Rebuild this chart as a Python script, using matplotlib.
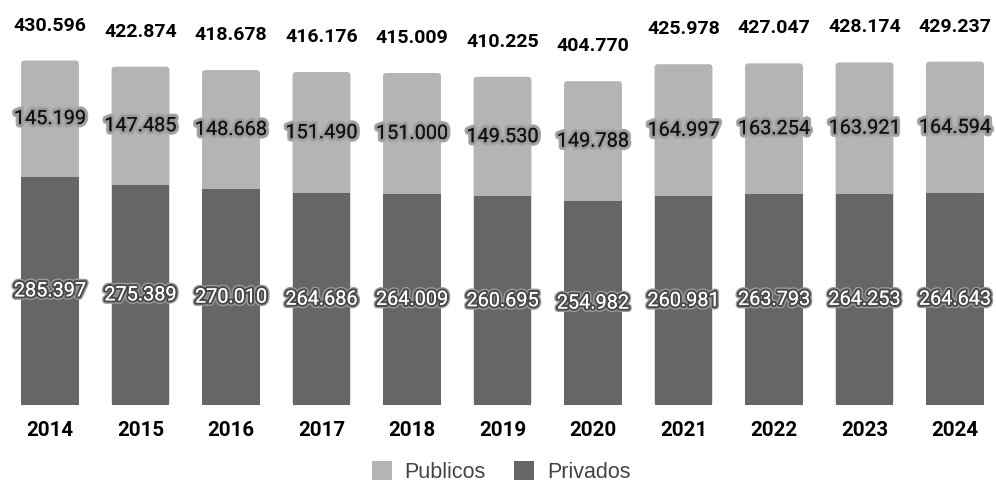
import matplotlib.pyplot as plt
import matplotlib.patheffects as pe
from matplotlib.patches import FancyBboxPatch, Patch

plt.rcParams['font.family'] = ['Roboto', 'DejaVu Sans']

# Matrículas por ano (rede pública x rede privada)
anos = ['2014', '2015', '2016', '2017', '2018', '2019', '2020', '2021', '2022', '2023', '2024']
publicos = [145199, 147485, 148668, 151490, 151000, 149530, 149788, 164997, 163254, 163921, 164594]
privados = [285397, 275389, 270010, 264686, 264009, 260695, 254982, 260981, 263793, 264253, 264643]
totais = [430596, 422874, 418678, 416176, 415009, 410225, 404770, 425978, 427047, 428174, 429237]

COR_PUB = '#b4b4b4'
COR_PRIV = '#666666'


def fmt(v):
    return f"{v:,}".replace(',', '.')


fig = plt.figure(figsize=(9.96, 4.83), dpi=100)
ax = fig.add_axes([0, 78 / 483, 1, 405 / 483])

x = list(range(len(anos)))
largura = 0.64

ax.bar(x, privados, width=largura, color=COR_PRIV, zorder=3)
barras_pub = ax.bar(x, publicos, width=largura, bottom=privados, color=COR_PUB, zorder=2)

ax.set_xlim(-0.5525, 10.453)
ax.set_ylim(0, 506250)

# top segment with slightly rounded upper corners (lower part hidden behind the dark bar)
px_x = 996 / (10.453 + 0.5525)
px_y = 405 / 506250
raio = 3.5 / px_x
for b in barras_pub:
    b.set_visible(False)
    topo = b.get_y() + b.get_height()
    ax.add_patch(FancyBboxPatch((b.get_x(), 0), b.get_width(), topo,
                                boxstyle=f"round,pad=0,rounding_size={raio}",
                                mutation_aspect=px_x / px_y,
                                facecolor=COR_PUB, edgecolor='none', zorder=2))

halo_pub = [pe.withStroke(linewidth=5, foreground='#a8a8a8'),
            pe.withStroke(linewidth=3, foreground='#9a9a9a'), pe.Normal()]
halo_priv = [pe.withStroke(linewidth=5, foreground='#9a9a9a'),
             pe.withStroke(linewidth=3, foreground='#4a4a4a'), pe.Normal()]

for i in x:
    ax.text(i, privados[i] / 2, fmt(privados[i]), ha='center', va='center',
            fontsize=14.3, color='white', path_effects=halo_priv, zorder=5)
    ax.text(i, privados[i] + publicos[i] / 2, fmt(publicos[i]), ha='center', va='center',
            fontsize=14.3, color='#111111', path_effects=halo_pub, zorder=5)
    ax.annotate(fmt(totais[i]), (i, totais[i]), xytext=(0, 35), textcoords='offset pixels',
                ha='center', va='center', fontsize=14, fontweight='bold', color='black')
    ax.annotate(anos[i], (i, 0), xytext=(0, -25), textcoords='offset pixels',
                ha='center', va='center', fontsize=14.8, fontweight='bold', color='black')

ax.axis('off')

handles = [Patch(facecolor=COR_PUB, label='Publicos'), Patch(facecolor=COR_PRIV, label='Privados')]
fig.legend(handles=handles, loc='center', bbox_to_anchor=(0.503, 11 / 483), ncol=2,
           frameon=False, handlelength=0.93, handleheight=0.93,
           columnspacing=1.3, handletextpad=0.6, labelcolor='#444444',
           prop={'family': 'Liberation Sans', 'size': 15.5})

fig.savefig('out.png', dpi=100)
